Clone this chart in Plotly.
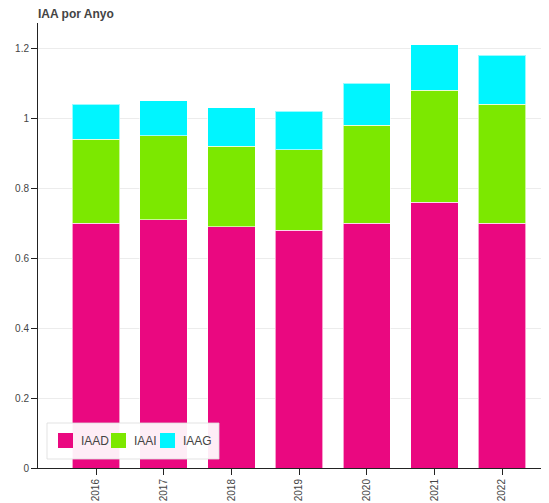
import plotly.graph_objects as go

# ---- data ----
years = ["2016", "2017", "2018", "2019", "2020", "2021", "2022"]
iaad = [0.70, 0.71, 0.69, 0.68, 0.70, 0.76, 0.70]
iaai = [0.24, 0.24, 0.23, 0.23, 0.28, 0.32, 0.34]
iaag = [0.10, 0.10, 0.11, 0.11, 0.12, 0.13, 0.14]
series_names = ["IAAD", "IAAI", "IAAG"]
y_ticks = [0, 0.2, 0.4, 0.6, 0.8, 1.0, 1.2]
y_tick_text = ["0", "0.2", "0.4", "0.6", "0.8", "1", "1.2"]

# ---- style ----
colors = ["#EA0880", "#7CE800", "#00F5FF"]
OFF = 8  # page body margin offset
W, H = 549 - OFF, 503 - OFF
# target page coordinates of plot area: left 38, top 23, bottom 468, right 549
ML, MR, MT, MB = 38 - OFF, 0, 23 - OFF, 503 - 468
FONT = "Liberation Sans, Arial, Helvetica, sans-serif"

fig = go.Figure()
for name, vals, col in zip(series_names, [iaad, iaai, iaag], colors):
    fig.add_trace(go.Bar(
        x=years, y=vals, name=name, width=0.7,
        marker=dict(color=col, line=dict(color="rgba(255,255,255,0.6)", width=1)),
        showlegend=False,
    ))

# ---- custom legend (Bokeh style), given in page pixels ----
pw, ph = W - ML - MR, H - MT - MB


def px(x):
    return (x - OFF - ML) / pw


def py(y):
    return (H - MB - (y - OFF)) / ph


shapes = [dict(type="rect", xref="paper", yref="paper",
               x0=px(47), x1=px(219), y0=py(459), y1=py(423),
               fillcolor="rgba(255,255,255,0.93)",
               line=dict(color="rgba(220,220,220,0.8)", width=1), layer="above")]
annotations = []
sw_x = [58, 111, 160]
txt_x = [79, 132, 181]
for name, col, sx, tx in zip(series_names, colors, sw_x, txt_x):
    shapes.append(dict(type="rect", xref="paper", yref="paper",
                       x0=px(sx), x1=px(sx + 15), y0=py(448), y1=py(433),
                       fillcolor=col, line=dict(width=0), layer="above"))
    annotations.append(dict(xref="paper", yref="paper", x=px(tx), y=py(441),
                            text=name, showarrow=False, xanchor="left", yanchor="middle",
                            font=dict(family=FONT, size=12, color="#444")))

fig.update_layout(
    width=W, height=H,
    margin=dict(l=ML, r=MR, t=MT, b=MB, autoexpand=False),
    barmode="stack",
    paper_bgcolor="white", plot_bgcolor="white",
    title=dict(text="<b>IAA por Anyo</b>", xref="paper", x=0, xanchor="left",
               yref="container", y=1.0, yanchor="top", pad=dict(t=2),
               font=dict(family=FONT, size=12, color="#444")),
    shapes=shapes, annotations=annotations,
    showlegend=False,
)
fig.update_xaxes(
    type="category", range=[-0.857, 6.694],
    showgrid=False, showline=True, linecolor="#222", linewidth=1,
    ticks="outside", ticklen=6, tickcolor="#222", tickwidth=1,
    tickangle=-90, tickfont=dict(family=FONT, size=10, color="#444"),
    automargin=False,
)
fig.update_yaxes(
    range=[0, 1.272], tickvals=y_ticks, ticktext=y_tick_text,
    showgrid=True, gridcolor="#ececec", gridwidth=1, zeroline=False,
    showline=True, linecolor="#222", linewidth=1,
    ticks="outside", ticklen=6, tickcolor="#222", tickwidth=1,
    tickfont=dict(family=FONT, size=10, color="#444"),
    automargin=False,
)

fig.write_html("out.html")
